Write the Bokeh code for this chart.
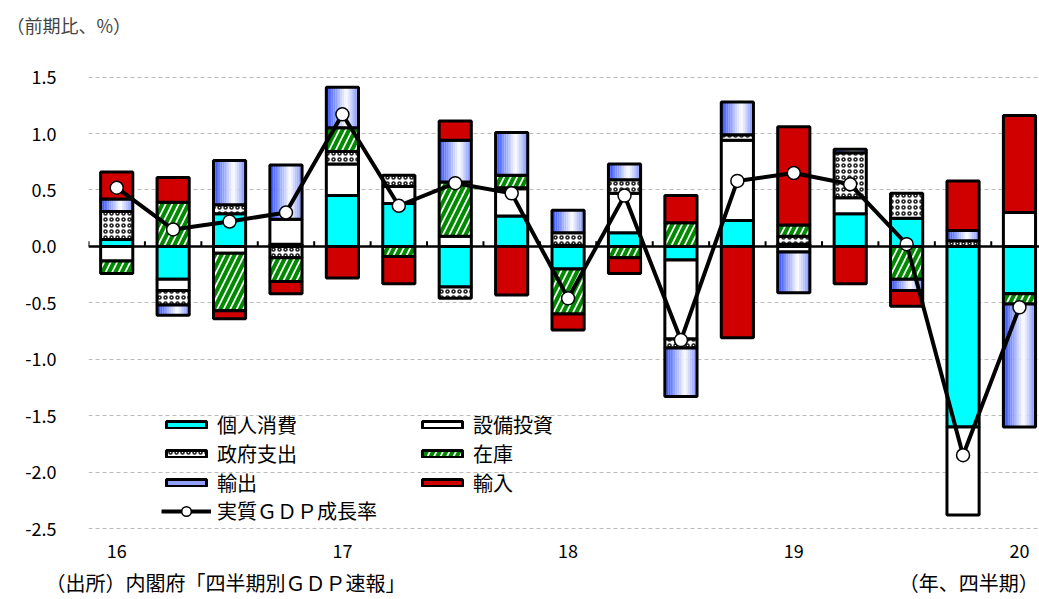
import numpy as np
from bokeh.plotting import figure
from bokeh.models import (ColumnDataSource, Range1d, FixedTicker, Span, Legend,
                          LegendItem, NumeralTickFormatter)
from bokeh.core.properties import value
from bokeh.embed import file_html
from bokeh.resources import INLINE

# ---------------- data ----------------
quarters = ["2016Q1", "2016Q2", "2016Q3", "2016Q4",
            "2017Q1", "2017Q2", "2017Q3", "2017Q4",
            "2018Q1", "2018Q2", "2018Q3", "2018Q4",
            "2019Q1", "2019Q2", "2019Q3", "2019Q4",
            "2020Q1"]
year_tick_idx = [0, 4, 8, 12, 16]
year_tick_labels = ["16", "17", "18", "19", "20"]

consumption = [0.06, -0.29, 0.29, 0.02, 0.45, 0.38, -0.36, 0.27, -0.20, 0.12,
               -0.12, 0.23, 0.02, 0.29, 0.25, -1.60, -0.42]
capex = [-0.13, -0.10, -0.06, 0.22, 0.28, 0.15, 0.09, 0.24, 0.01, 0.35,
         -0.70, 0.71, -0.05, 0.14, 0.00, -0.78, 0.30]
government = [0.25, -0.13, 0.08, -0.10, 0.11, 0.10, -0.10, 0.01, 0.11, 0.12,
              -0.08, 0.05, 0.07, 0.40, 0.22, 0.05, 0.00]
inventory = [-0.11, 0.39, -0.51, -0.21, 0.21, -0.09, 0.48, 0.11, -0.40, -0.10,
             0.21, 0.00, 0.10, 0.00, -0.29, 0.00, -0.09]
exports = [0.11, -0.09, 0.39, 0.48, 0.36, 0.00, 0.37, 0.38, 0.20, 0.14,
           -0.43, 0.29, -0.36, 0.03, -0.10, 0.09, -1.09]
imports = [0.24, 0.22, -0.07, -0.11, -0.28, -0.24, 0.17, -0.43, -0.14, -0.14,
           0.24, -0.81, 0.87, -0.33, -0.14, 0.44, 0.86]
gdp = [0.52, 0.15, 0.22, 0.30, 1.17, 0.36, 0.56, 0.47, -0.46, 0.45,
       -0.83, 0.58, 0.65, 0.55, 0.02, -1.85, -0.54]

series_names = ["個人消費", "設備投資", "政府支出", "在庫", "輸出", "輸入"]
gdp_name = "実質ＧＤＰ成長率"
y_ticks = [-2.5, -2.0, -1.5, -1.0, -0.5, 0.0, 0.5, 1.0, 1.5]
unit_text = "（前期比、%）"
source_text = "（出所）内閣府「四半期別ＧＤＰ速報」"
period_text = "（年、四半期）"

# ---------------- stacking ----------------
vals = np.array([consumption, capex, government, inventory, exports, imports])
xi = np.arange(len(quarters))
pos = np.where(vals > 0, vals, 0.0)
neg = np.where(vals < 0, vals, 0.0)
pos_top = np.cumsum(pos, axis=0)
pos_bot = pos_top - pos
neg_bot = np.cumsum(neg, axis=0)
neg_top = neg_bot - neg
bottoms = np.where(vals >= 0, pos_bot, neg_bot)
tops = np.where(vals >= 0, pos_top, neg_top)

FONT = "Noto Sans CJK JP"
BAR_W = 0.57

p = figure(width=1039, height=599,
           x_range=Range1d(-0.5, 16.355), y_range=Range1d(-2.765, 1.762),
           output_backend="svg", toolbar_location=None,
           min_border_left=88, min_border_right=0,
           min_border_top=47, min_border_bottom=39)
p.outline_line_color = None
p.xgrid.visible = False
p.ygrid.ticker = FixedTicker(ticks=y_ticks)
p.ygrid.grid_line_color = "#BBBBBB"
p.ygrid.grid_line_dash = "4 3"
p.ygrid.grid_line_width = 1

# title (unit)
p.title.text = unit_text
p.title.align = "left"
p.title.offset = -82
p.title.text_font = FONT
p.title.text_font_size = "18px"
p.title.text_font_style = "normal"
p.title.standoff = 19

p.yaxis.ticker = FixedTicker(ticks=y_ticks)
p.yaxis.formatter = NumeralTickFormatter(format="0.0")
p.yaxis.axis_line_color = None
p.yaxis.major_tick_line_color = None
p.yaxis.minor_tick_line_color = None
p.yaxis.major_label_standoff = 26
p.yaxis.major_label_text_font = FONT
p.yaxis.major_label_text_font_size = "18px"
p.yaxis.major_label_text_color = "black"

# bottom axis carries the source note and the period note
note_pos = [1.93, 15.1]
p.xaxis.ticker = FixedTicker(ticks=note_pos)
p.xaxis.major_label_overrides = {note_pos[0]: source_text, note_pos[1]: period_text}
p.xaxis.axis_line_color = None
p.xaxis.major_tick_line_color = None
p.xaxis.minor_tick_line_color = None
p.xaxis.major_label_standoff = 3
p.xaxis.major_label_text_font = FONT
p.xaxis.major_label_text_font_size = "20px"
p.xaxis.major_label_text_color = "black"

styles = [
    dict(fill_color="#00FFFF"),
    dict(fill_color="white"),
    dict(fill_color="white", hatch_pattern="o", hatch_color="#222222",
         hatch_scale=6, hatch_weight=1.6),
    dict(fill_color="white", hatch_pattern="/", hatch_color="#008A00",
         hatch_scale=13, hatch_weight=4),
    None,
    dict(fill_color="#D00000"),
]

legend_renderers = {}


def seg_source(k):
    m = vals[k] != 0
    return ColumnDataSource(dict(x=xi[m], bottom=bottoms[k][m], top=tops[k][m]))


def blue_color(t):
    c_left = np.array([40, 70, 255])
    c_mid = np.array([255, 255, 255])
    c_right = np.array([120, 140, 250])
    tm = 0.62
    if t < tm:
        c = c_left + (c_mid - c_left) * (t / tm)
    else:
        c = c_mid + (c_right - c_mid) * ((t - tm) / (1 - tm))
    return "#%02x%02x%02x" % tuple(int(round(v)) for v in c)


for k in range(6):
    src = seg_source(k)
    if styles[k] is not None:
        r = p.vbar(x="x", bottom="bottom", top="top", width=BAR_W, source=src,
                   line_color="black", line_width=3, **styles[k])
        legend_renderers[k] = [r]
    else:
        nslice = 18
        m = vals[k] != 0
        slices = []
        for j in range(nslice):
            t = (j + 0.5) / nslice
            off = -BAR_W / 2 + t * BAR_W
            s2 = ColumnDataSource(dict(x=xi[m] + off, bottom=bottoms[k][m], top=tops[k][m]))
            rr = p.vbar(x="x", bottom="bottom", top="top", width=BAR_W / nslice * 1.05,
                        source=s2, fill_color=blue_color(t), line_color=None)
            slices.append(rr)
        ro = p.vbar(x="x", bottom="bottom", top="top", width=BAR_W, source=src,
                    fill_color=None, line_color="black", line_width=3)
        legend_renderers[k] = [slices[5], ro]

# zero line with small ticks at quarter boundaries
p.add_layout(Span(location=0, dimension="width", line_color="black", line_width=2.5))
bx = np.arange(len(quarters) + 1) - 0.5
p.segment(x0=bx, x1=bx, y0=np.zeros_like(bx), y1=np.full_like(bx, 0.045),
          line_color="black", line_width=2)

# year labels under the lowest gridline
label_y = y_ticks[0] - 0.2
p.text(x=year_tick_idx, y=[label_y] * len(year_tick_idx), text=year_tick_labels,
       text_font=value(FONT), text_font_size="18px", text_color="black",
       text_align="center", text_baseline="middle")

# GDP line
gsrc = ColumnDataSource(dict(x=xi, y=gdp))
rl = p.line(x="x", y="y", source=gsrc, line_color="black", line_width=4)
rm = p.scatter(x="x", y="y", source=gsrc, size=13, fill_color="white",
               line_color="black", line_width=1.5)


def make_legend(items, loc, gh=9):
    return Legend(items=items, location=loc, orientation="vertical",
                  glyph_width=50, glyph_height=gh, label_standoff=6,
                  spacing=0, padding=0, margin=0, label_height=20,
                  border_line_color=None, background_fill_alpha=0,
                  label_text_font=FONT, label_text_font_size="20px",
                  label_text_color="black")


left_items = [LegendItem(label=series_names[0], renderers=legend_renderers[0]),
              LegendItem(label=series_names[2], renderers=legend_renderers[2]),
              LegendItem(label=series_names[4], renderers=legend_renderers[4])]
right_items = [LegendItem(label=series_names[1], renderers=legend_renderers[1]),
               LegendItem(label=series_names[3], renderers=legend_renderers[3]),
               LegendItem(label=series_names[5], renderers=legend_renderers[5])]
gdp_items = [LegendItem(label=gdp_name, renderers=[rl, rm])]
p.add_layout(make_legend(left_items, (73, 61)))
p.add_layout(make_legend(right_items, (329, 61)))
p.add_layout(make_legend(gdp_items, (73, 33), gh=24))

open("out.html", "w").write(file_html(p, INLINE))
